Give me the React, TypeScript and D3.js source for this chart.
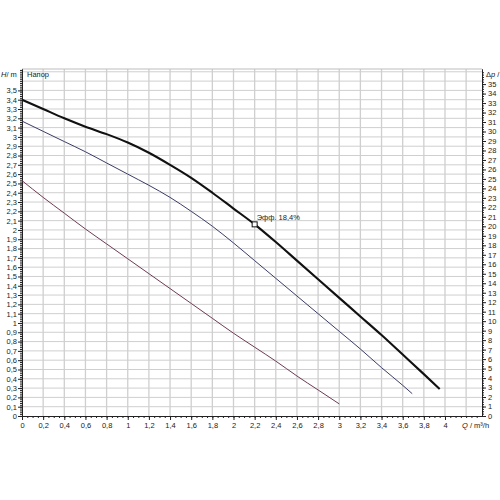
import React, { useEffect, useRef } from 'react';
import * as d3 from 'd3';

// Q in m3/h, H in m
const flowHigh = [0, 0.2, 0.4, 0.6, 0.8, 1.0, 1.2, 1.4, 1.6, 1.8, 2.0, 2.2, 2.4, 2.6, 2.8, 3.0, 3.2, 3.4, 3.6, 3.8, 3.95];
const headHigh = [3.40, 3.30, 3.20, 3.11, 3.03, 2.94, 2.83, 2.70, 2.56, 2.40, 2.23, 2.06, 1.87, 1.67, 1.47, 1.27, 1.07, 0.87, 0.66, 0.45, 0.29];

const flowMid = [0, 0.2, 0.4, 0.6, 0.8, 1.0, 1.2, 1.4, 1.6, 1.8, 2.0, 2.2, 2.4, 2.6, 2.8, 3.0, 3.2, 3.4, 3.6, 3.69];
const headMid = [3.17, 3.06, 2.95, 2.84, 2.72, 2.60, 2.48, 2.35, 2.20, 2.04, 1.86, 1.67, 1.48, 1.29, 1.10, 0.91, 0.72, 0.52, 0.33, 0.24];

const flowLow = [0, 0.2, 0.4, 0.6, 0.8, 1.0, 1.2, 1.4, 1.6, 1.8, 2.0, 2.2, 2.4, 2.6, 2.8, 3.0];
const headLow = [2.53, 2.35, 2.18, 2.01, 1.85, 1.69, 1.53, 1.37, 1.21, 1.05, 0.89, 0.74, 0.59, 0.43, 0.28, 0.13];

const dutyPoint = { q: 2.2, h: 2.06, label: 'Эфф. 18,4%' };

const headTicks = d3.range(0, 36).map(i => i / 10);
const flowTicks = d3.range(0, 21).map(i => i / 5);
const kpaTicks = d3.range(0, 36);

const fmt = (v: number) => String(+v.toFixed(2)).replace('.', ',');

const App = () => {
  const ref = useRef<SVGSVGElement>(null);

  useEffect(() => {
    const svg = d3.select(ref.current);
    svg.selectAll('*').remove();

    const left = 22, right = 482, top = 69, bottom = 416;
    const hTop = 3.73;
    const x = d3.scaleLinear().domain([0, 4.35]).range([left, right]);
    const y = d3.scaleLinear().domain([0, hTop]).range([bottom, top]);
    const yKpa = d3.scaleLinear().domain([0, hTop * 9.81]).range([bottom, top]);
    const font = 'Liberation Sans, Arial, sans-serif';

    // grid
    const grid = svg.append('g').attr('stroke', '#cfcfcf');
    grid.selectAll('.h')
      .data(d3.range(1, 38).map(i => i / 10))
      .join('line')
      .attr('x1', left).attr('x2', right)
      .attr('y1', d => y(d)).attr('y2', d => y(d))
      .attr('stroke-width', 1);
    grid.selectAll('.v')
      .data(d3.range(1, 22).map(i => i / 5))
      .join('line')
      .attr('x1', d => x(d)).attr('x2', d => x(d))
      .attr('y1', top).attr('y2', bottom)
      .attr('stroke-width', 1.3);
    svg.append('line')
      .attr('x1', left).attr('x2', right).attr('y1', top).attr('y2', top)
      .attr('stroke', '#bdbdbd');

    // axes
    const styleAxis = (g: any) => {
      g.selectAll('text').attr('font-family', font).attr('font-size', 7.5).attr('fill', '#222');
      g.selectAll('line').attr('stroke', '#222');
      g.select('.domain').attr('stroke', '#222');
    };

    svg.append('g').attr('transform', `translate(${left},0)`)
      .call(d3.axisLeft(y).tickValues(d3.range(0, 187).map(i => i / 50)).tickSize(2).tickFormat(() => '').tickSizeOuter(0))
      .call(styleAxis);
    svg.append('g').attr('transform', `translate(${left},0)`)
      .call(d3.axisLeft(y).tickValues(headTicks).tickSize(4).tickPadding(1).tickFormat(d => fmt(+d)).tickSizeOuter(0))
      .call(styleAxis);

    svg.append('g').attr('transform', `translate(0,${bottom})`)
      .call(d3.axisBottom(x).tickValues(d3.range(0, 87).map(i => i / 20)).tickSize(2).tickFormat(() => '').tickSizeOuter(0))
      .call(styleAxis);
    svg.append('g').attr('transform', `translate(0,${bottom})`)
      .call(d3.axisBottom(x).tickValues(flowTicks).tickSize(4).tickPadding(3).tickFormat(d => fmt(+d)).tickSizeOuter(0))
      .call(styleAxis);

    svg.append('g').attr('transform', `translate(${right},0)`)
      .call(d3.axisRight(yKpa).tickValues(d3.range(0, 146).map(i => i / 4)).tickSize(2).tickFormat(() => '').tickSizeOuter(0))
      .call(styleAxis);
    svg.append('g').attr('transform', `translate(${right},0)`)
      .call(d3.axisRight(yKpa).tickValues(kpaTicks).tickSize(4).tickPadding(2).tickFormat(d => String(d)).tickSizeOuter(0))
      .call(styleAxis);

    // axis titles
    const hLabel = svg.append('text').attr('x', 1).attr('y', 77)
      .attr('font-family', font).attr('font-size', 7.5).attr('fill', '#222');
    hLabel.append('tspan').attr('font-style', 'italic').text('H');
    hLabel.append('tspan').text('/ m');
    svg.append('text').attr('x', 27).attr('y', 77).attr('font-family', font)
      .attr('font-size', 7.5).attr('fill', '#222').text('Напор');
    const pLabel = svg.append('text').attr('x', 486).attr('y', 77)
      .attr('font-family', font).attr('font-size', 7.5).attr('fill', '#222');
    pLabel.append('tspan').text('Δ');
    pLabel.append('tspan').attr('font-style', 'italic').text('p');
    pLabel.append('tspan').text(' /');
    const qLabel = svg.append('text').attr('x', 462).attr('y', 428)
      .attr('font-family', font).attr('font-size', 7.5).attr('fill', '#222');
    qLabel.append('tspan').attr('font-style', 'italic').text('Q');
    qLabel.append('tspan').text(' / m³/h');

    // curves
    const line = d3.line<[number, number]>()
      .x(d => x(d[0]))
      .y(d => y(d[1]))
      .curve(d3.curveMonotoneX);

    svg.append('path')
      .datum(flowLow.map((q, i) => [q, headLow[i]] as [number, number]))
      .attr('fill', 'none').attr('stroke', '#6e3a55').attr('stroke-width', 1)
      .attr('d', line);
    svg.append('path')
      .datum(flowMid.map((q, i) => [q, headMid[i]] as [number, number]))
      .attr('fill', 'none').attr('stroke', '#3a3d66').attr('stroke-width', 1)
      .attr('d', line);
    svg.append('path')
      .datum(flowHigh.map((q, i) => [q, headHigh[i]] as [number, number]))
      .attr('fill', 'none').attr('stroke', '#111').attr('stroke-width', 2.1)
      .attr('d', line);

    // duty point
    svg.append('rect')
      .attr('x', x(dutyPoint.q) - 2.5).attr('y', y(dutyPoint.h) - 2.5)
      .attr('width', 5).attr('height', 5)
      .attr('fill', '#fff').attr('stroke', '#111').attr('stroke-width', 1);
    svg.append('text')
      .attr('x', x(dutyPoint.q) + 2).attr('y', y(dutyPoint.h) - 4)
      .attr('font-family', font).attr('font-size', 7.5).attr('fill', '#222')
      .text(dutyPoint.label);
  }, []);

  return (
    <svg ref={ref} width={500} height={500}
      style={{ position: 'absolute', left: 0, top: 0, background: '#fff' }} />
  );
};

export default App;
